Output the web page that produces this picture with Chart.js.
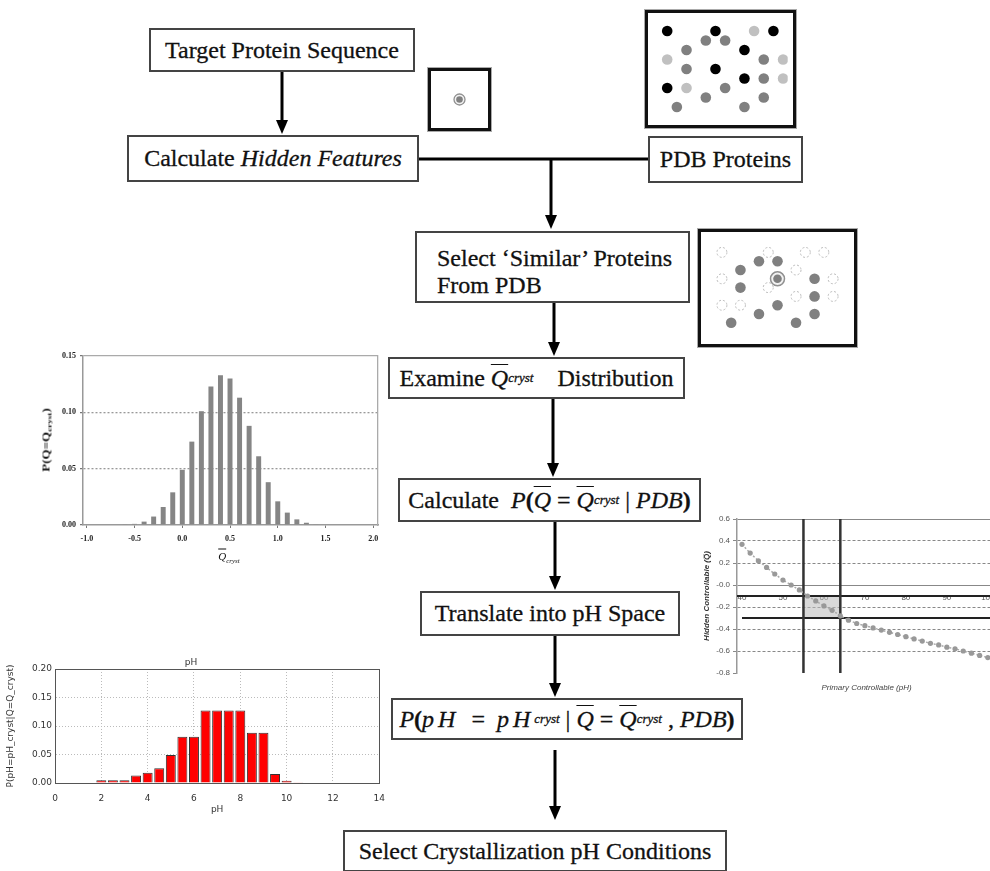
<!DOCTYPE html>
<html>
<head>
<meta charset="utf-8">
<script src="https://cdn.jsdelivr.net/npm/chart.js@4.4.0/dist/chart.umd.min.js"></script>
<style>
  html, body { margin: 0; padding: 0; background: #fff; }
  body { width: 990px; height: 871px; position: relative; overflow: hidden;
         font-family: "Liberation Serif", "Times New Roman", serif; color: #111; }
  .box { position: absolute; box-sizing: border-box; border: 2px solid #444; background: #fff;
         font-size: 24px; display: flex; align-items: center; justify-content: center; white-space: nowrap;
         -webkit-text-stroke: 0.3px #111; }
  .panel { position: absolute; box-sizing: border-box; border: 3px solid #111;
           box-shadow: 0 0 0 1px #aaa; background: #fff; }
  canvas { display: block; }
  .plot { position: absolute; }
  .ov { text-decoration: overline; text-decoration-thickness: 1px; }
  .m { font-style: italic; }
  .sub { font-size: 13px; font-style: italic; vertical-align: -6px; }
  .lbl { position: absolute; white-space: nowrap; font-weight: bold; }
</style>
</head>
<body>

<svg width="990" height="871" style="position:absolute;left:0;top:0">
  <g stroke="#000" stroke-width="3" fill="none">
    <line x1="282" y1="72" x2="282" y2="122"/>
    <line x1="419" y1="159" x2="648" y2="159"/>
    <line x1="551" y1="159" x2="551" y2="217"/>
    <line x1="554" y1="303" x2="554" y2="344"/>
    <line x1="553" y1="399" x2="553" y2="465"/>
    <line x1="555" y1="522" x2="555" y2="578"/>
    <line x1="555" y1="636" x2="555" y2="685"/>
    <line x1="555" y1="750" x2="555" y2="808"/>
  </g>
  <g fill="#000">
    <polygon points="276,120 288,120 282,134"/>
    <polygon points="545,215 557,215 551,229"/>
    <polygon points="548,342 560,342 554,356"/>
    <polygon points="547,463 559,463 553,477"/>
    <polygon points="549,576 561,576 555,590"/>
    <polygon points="549,683 561,683 555,697"/>
    <polygon points="549,806 561,806 555,820"/>
  </g>
</svg>

<div class="box" style="left:149px;top:28px;width:266px;height:44px">Target Protein Sequence</div>
<div class="box" style="left:127px;top:135px;width:292px;height:47px">Calculate&nbsp;<i>Hidden Features</i></div>
<div class="box" style="left:648px;top:136px;width:155px;height:47px">PDB Proteins</div>
<div class="box" style="left:415px;top:231px;width:275px;height:72px;display:block;padding:12px 0 0 20px;line-height:27px">Select ‘Similar’ Proteins<br>From PDB</div>
<div class="box" style="left:388px;top:357px;width:297px;height:42px">Examine&nbsp;<span class="m ov">Q</span><span class="sub">cryst</span>&nbsp;&nbsp;&nbsp; Distribution</div>
<div class="box" style="left:398px;top:478px;width:303px;height:44px">Calculate&nbsp;&nbsp;<span class="m">P</span><b>(</b><span class="m ov">Q</span>&nbsp;=&nbsp;<span class="m ov">Q</span><span class="sub">cryst</span>&nbsp;|&nbsp;<span class="m">PDB</span><b>)</b></div>
<div class="box" style="left:420px;top:591px;width:260px;height:45px">Translate into pH Space</div>
<div class="box" style="left:391px;top:698px;width:352px;height:42px"><span class="m">P</span><b>(</b><span class="m" style="letter-spacing:4px">pH</span>&nbsp;&nbsp;=&nbsp;&nbsp;<span class="m" style="letter-spacing:4px">pH</span><span class="sub">cryst</span>&nbsp;|&nbsp;<span class="m ov">Q</span>&nbsp;=&nbsp;<span class="m ov">Q</span><span class="sub">cryst</span>&nbsp;,&nbsp;<span class="m">PDB</span><b>)</b></div>
<div class="box" style="left:343px;top:830px;width:384px;height:42px">Select Crystallization pH Conditions</div>

<div class="panel" style="left:428px;top:68px;width:63px;height:63px"><canvas id="targetDot" width="57" height="57"></canvas></div>
<div class="panel" style="left:645px;top:10px;width:151px;height:118px"><canvas id="pdbDots" width="145" height="112"></canvas></div>
<div class="panel" style="left:698px;top:229px;width:159px;height:118px"><canvas id="similarDots" width="153" height="112"></canvas></div>

<div class="plot" style="left:30px;top:340px"><canvas id="qHist" width="360" height="230"></canvas></div>
<span class="lbl" style="left:47px;top:440px;font-size:10px;transform:translate(-50%,-50%) rotate(-90deg) scaleX(1.3)">P(Q=Q<span style="font-size:7px;vertical-align:-2px">cryst</span>)</span>
<span class="lbl" style="left:229px;top:557px;font-size:11px;font-weight:normal;transform:translate(-50%,-50%)"><span class="m ov">Q</span><span style="font-size:7px;font-style:italic;vertical-align:-3px">cryst</span></span>

<div class="plot" style="left:0px;top:645px"><canvas id="phHist" width="395" height="180"></canvas></div>
<div class="plot" style="left:700px;top:505px"><canvas id="phMap" width="300" height="200"></canvas></div>

<script>
// dot positions on the panel grid: [column, row]
const pdbBlack = [[0,0],[5,0],[11,0],[8,2],[5,4],[8,5],[0,6]];
const pdbGrey = [[4,1],[6,1],[2,2],[10,3],[2,4],[10,5],[6,6],[4,7],[10,7],[1,8],[8,8]];
const pdbLight = [[9,0],[0,3],[12,3],[12,5],[2,6]];

const simOpen = [[0,0],[5,0],[9,0],[11,0],[8,2],[0,3],[12,3],[5,4],[8,5],[12,5],[0,6],[2,6]];
const simFilled = [[4,1],[6,1],[2,2],[10,3],[2,4],[10,5],[6,6],[4,7],[10,7],[1,8],[8,8]];
const simTarget = [[6,3]];

// Q cryst distribution
const qCenters = [-0.6,-0.5,-0.4,-0.3,-0.2,-0.1,0.0,0.1,0.2,0.3,0.4,0.5,0.6,0.7,0.8,0.9,1.0,1.1,1.2,1.3,1.4];
const qProb = [0.0005,0.001,0.003,0.0075,0.016,0.029,0.049,0.074,0.101,0.123,0.133,0.130,0.113,0.088,0.061,0.038,0.021,0.011,0.005,0.002,0.0007];

// pH distribution
const phCenters = [2,2.5,3,3.5,4,4.5,5,5.5,6,6.5,7,7.5,8,8.5,9,9.5,10,10.5,11,11.5,12];
const phProb = [0.005,0.005,0.005,0.013,0.018,0.026,0.049,0.081,0.081,0.127,0.127,0.127,0.127,0.088,0.088,0.016,0.004,0.0015,0,0.001,0.001];

// hidden vs primary controllable
const primaryPH = [40,42,44,46,48,50,52,54,56,58,60,62,64,66,68,70,72,74,76,78,80,82,84,86,88,90,92,94,96,98,100];
const hiddenQ = [0.37,0.29,0.22,0.16,0.10,0.045,0.0,-0.045,-0.10,-0.145,-0.19,-0.23,-0.28,-0.32,-0.35,-0.37,-0.39,-0.41,-0.43,-0.45,-0.47,-0.49,-0.51,-0.53,-0.545,-0.565,-0.58,-0.60,-0.62,-0.64,-0.66];
const phWindow = [55, 64];
const qWindow = [-0.1, -0.3];

Chart.defaults.font.family = "'Liberation Sans', Arial, sans-serif";

const quiet = { legend: { display: false }, tooltip: { enabled: false } };
const near = (a, b) => Math.abs(a - b) < 1e-9;
const toXY = (xs, ys) => xs.map((x, i) => ({ x: x, y: ys[i] }));
const toPts = arr => arr.map(p => ({ x: p[0], y: p[1] }));

// open circles get a dashed outline
const ringDash = {
  id: 'ringDash',
  beforeDatasetDraw(chart, args) {
    const ds = chart.data.datasets[args.index];
    chart.ctx.setLineDash(ds.ringDash || []);
  },
  afterDatasetDraw(chart) { chart.ctx.setLineDash([]); }
};

function dotPanel(id, datasets, xr, yr) {
  new Chart(document.getElementById(id), {
    type: 'scatter',
    data: { datasets: datasets },
    options: {
      responsive: false, animation: false, events: [],
      layout: { padding: 0 },
      plugins: quiet,
      scales: {
        x: { display: false, min: xr[0], max: xr[1] },
        y: { display: false, min: yr[0], max: yr[1], reverse: true }
      }
    },
    plugins: [ringDash]
  });
}

function dots(arr, fill, r, border, bw, dash) {
  return { data: toPts(arr), pointRadius: r, pointBackgroundColor: fill,
           pointBorderColor: border || fill, pointBorderWidth: bw || 0, ringDash: dash };
}

dotPanel('targetDot', [
  dots([[0,0]], '#808080', 3.3),
  dots([[0,0]], '#f2f2f2', 5.5, '#909090', 1.3)
], [-1, 1], [-1, 1]);

dotPanel('pdbDots', [
  dots(pdbBlack, '#000', 5.3),
  dots(pdbGrey, '#808080', 5.3),
  dots(pdbLight, '#c0c0c0', 5.3)
], [-1.44, 12.48], [-1.33, 9.33]);

dotPanel('similarDots', [
  dots(simTarget, '#808080', 4.3),
  dots(simTarget, '#f2f2f2', 7, '#909090', 1.5),
  dots(simFilled, '#808080', 5.3),
  dots(simOpen, '#fff', 5, '#bbb', 1, [2, 2])
], [-1.34, 13.34], [-1.35, 9.44]);

// Q cryst histogram
const serifBold = { family: "'Liberation Serif', serif", size: 8, weight: 'bold' };
new Chart(document.getElementById('qHist'), {
  type: 'bar',
  data: { datasets: [{ data: toXY(qCenters, qProb), backgroundColor: '#858585', borderWidth: 0,
                       barPercentage: 0.52, categoryPercentage: 1 }] },
  options: {
    responsive: false, animation: false, events: [],
    layout: { padding: { top: 16, right: 12, left: 0, bottom: 0 } },
    plugins: quiet,
    scales: {
      x: { type: 'linear', min: -1.04, max: 2.05, offset: false,
           ticks: { stepSize: 0.5, includeBounds: false, font: serifBold, color: '#222', padding: 6,
                    maxRotation: 0, callback: v => v.toFixed(1) },
           grid: { offset: false, drawOnChartArea: false, tickLength: 3, color: '#777' },
           border: { color: '#999', width: 1.5 },
           afterFit: s => { s.height = 45; } },
      y: { min: 0, max: 0.15,
           ticks: { stepSize: 0.05, font: serifBold, color: '#222', padding: 4, callback: v => v.toFixed(2) },
           grid: { color: c => near(c.tick.value, 0) ? 'transparent' : (near(c.tick.value, 0.15) ? '#aaa' : '#999'),
                   lineWidth: 1.3, tickLength: 3, tickColor: '#777' },
           border: { color: '#999', width: 1.5,
                     dash: c => (c.tick && !near(c.tick.value, 0.15)) ? [2, 2] : [] },
           afterFit: s => { s.width = 53; } },
      yFrame: { position: 'right', ticks: { display: false }, grid: { display: false },
                border: { color: '#aaa', width: 1.3 }, afterFit: s => { s.width = 0; } }
    }
  }
});

// pH histogram
const sans9 = { family: "'DejaVu Sans', sans-serif", size: 9 };
new Chart(document.getElementById('phHist'), {
  type: 'bar',
  data: { datasets: [{ data: toXY(phCenters, phProb), backgroundColor: '#ff0000', borderColor: '#333',
                       borderWidth: 1, barPercentage: 0.86, categoryPercentage: 1 }] },
  options: {
    responsive: false, animation: false, events: [],
    layout: { padding: { top: 0, right: 13, left: 0, bottom: 0 } },
    plugins: {
      legend: { display: false }, tooltip: { enabled: false },
      title: { display: true, text: 'pH', font: { family: sans9.family, size: 9, weight: 'normal' },
               color: '#333', padding: { top: 12.6, bottom: 0.6 } }
    },
    scales: {
      x: { type: 'linear', min: 0, max: 14, offset: false,
           ticks: { stepSize: 2, font: sans9, color: '#333', padding: 10, maxRotation: 0 },
           grid: { offset: false, drawTicks: false, color: c => near(c.tick.value, 14) ? '#555' : '#bbb' },
           border: { color: '#555', dash: c => (c.tick && !near(c.tick.value, 14)) ? [1, 2] : [] },
           title: { display: true, text: 'pH', font: sans9, color: '#333', padding: { top: 0, bottom: 9.6 } },
           afterFit: s => { s.height = 42; } },
      y: { min: 0, max: 0.2,
           ticks: { stepSize: 0.05, font: sans9, color: '#333', padding: 3, callback: v => v.toFixed(2) },
           grid: { drawTicks: false, color: c => near(c.tick.value, 0.2) ? '#555' : '#bbb' },
           border: { color: '#555', dash: c => (c.tick && !near(c.tick.value, 0.2)) ? [1, 2] : [] },
           title: { display: true, text: 'P(pH=pH_cryst|Q=Q_cryst)', font: sans9, color: '#333',
                    padding: { top: 5, bottom: 0 } },
           afterFit: s => { s.width = 55; } }
    }
  }
});

// pH mapping of the hidden feature
const xMin = 38.78, xMax = 102;
const sans8 = { size: 8 };
new Chart(document.getElementById('phMap'), {
  type: 'line',
  data: {
    datasets: [
      { data: toXY(primaryPH, hiddenQ), borderColor: '#aaa', borderWidth: 1.5, borderDash: [2, 2],
        pointRadius: 2.6, pointBackgroundColor: '#999', pointBorderWidth: 0, fill: false },
      { data: toXY([phWindow[0], phWindow[0]], [0.6, -0.8]), borderColor: '#333', borderWidth: 2.5, pointRadius: 0 },
      { data: toXY([phWindow[1], phWindow[1]], [0.6, -0.8]), borderColor: '#333', borderWidth: 2.5, pointRadius: 0 },
      { data: toXY([xMin, xMax], [qWindow[0], qWindow[0]]), borderColor: '#222', borderWidth: 2, pointRadius: 0 },
      { data: toXY([40, xMax], [qWindow[1], qWindow[1]]), borderColor: '#222', borderWidth: 2, pointRadius: 0 },
      { data: toXY(phWindow, [qWindow[0], qWindow[0]]), borderWidth: 0, pointRadius: 0,
        backgroundColor: 'rgba(185,185,185,0.55)', fill: { value: qWindow[1] } }
    ]
  },
  options: {
    responsive: false, animation: false, events: [],
    layout: { padding: { top: 14, right: 4, left: 0, bottom: 0 } },
    plugins: quiet,
    scales: {
      x: { type: 'linear', min: xMin, max: xMax, offset: false,
           ticks: { display: false }, grid: { display: false }, border: { display: false },
           title: { display: true, text: 'Primary Controllable (pH)', color: '#444',
                    font: { size: 8, style: 'italic' }, padding: { top: 0, bottom: 12 } },
           afterFit: s => { s.height = 32; } },
      xMid: { axis: 'x', type: 'linear', position: { y: 0 }, min: xMin, max: xMax, offset: false,
              ticks: { stepSize: 10, includeBounds: false, font: sans8, color: '#555', padding: 0, maxRotation: 0 },
              grid: { display: false }, border: { display: false },
              afterFit: s => { s.height = 0; } },
      y: { min: -0.8, max: 0.6,
           ticks: { stepSize: 0.2, font: sans8, color: '#555', padding: 3, callback: v => v.toFixed(1) },
           grid: { color: c => near(c.tick.value, -0.8) ? 'transparent' : '#888', tickLength: 4, tickColor: '#888' },
           border: { color: '#999', width: 1.5,
                     dash: c => (c.tick && !near(c.tick.value, 0) && !near(c.tick.value, 0.6)) ? [3, 2] : [] },
           title: { display: true, text: 'Hidden Controllable (Q\u0305)', color: '#333',
                    font: { size: 8, style: 'italic', weight: 'bold' }, padding: { top: 2, bottom: 0 } },
           afterFit: s => { s.width = 37; } }
    }
  }
});
</script>
</body>
</html>
